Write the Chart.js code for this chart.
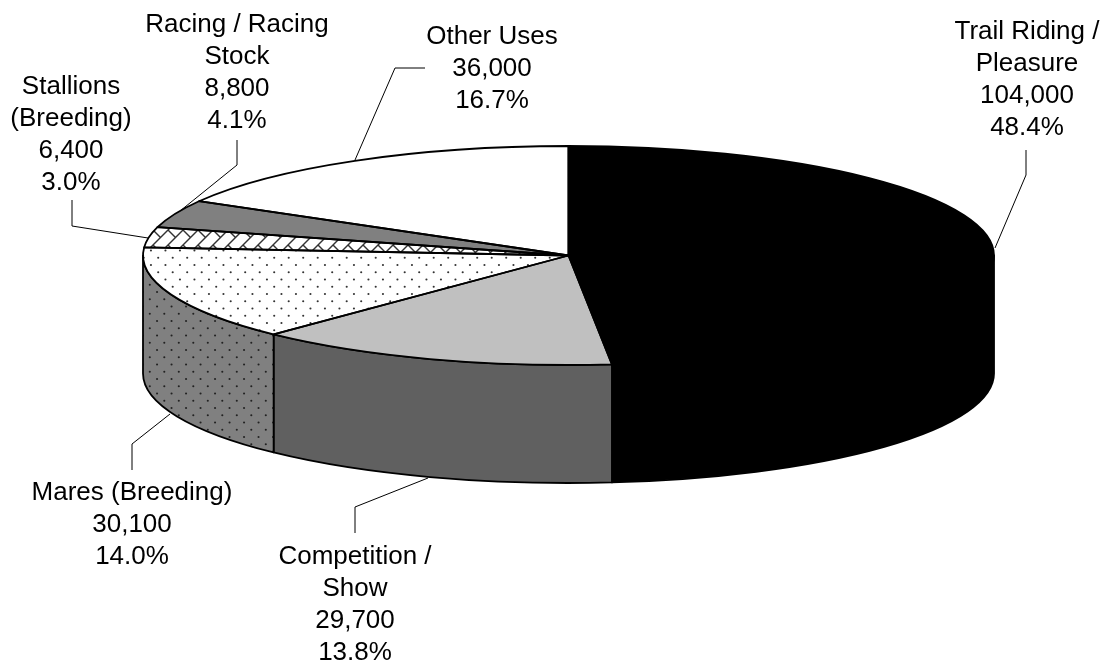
<!DOCTYPE html>
<html><head><meta charset="utf-8">
<style>html,body{margin:0;padding:0;background:#fff}canvas{display:block}</style>
<script src="https://cdn.jsdelivr.net/npm/chart.js@4"></script>
</head><body><canvas id="c" width="1102" height="660"></canvas>
<script>
const categories=["Trail Riding / Pleasure","Competition / Show","Mares (Breeding)","Stallions (Breeding)","Racing / Racing Stock","Other Uses"];
const horses=[104000,29700,30100,6400,8800,36000];
const shares=["48.4%","13.8%","14.0%","3.0%","4.1%","16.7%"];
const valueText=["104,000","29,700","30,100","6,400","8,800","36,000"];
const nameLines=[["Trail Riding /","Pleasure"],["Competition /","Show"],["Mares (Breeding)"],["Stallions","(Breeding)"],["Racing / Racing","Stock"],["Other Uses"]];

const FONT='26px "Liberation Sans", Arial, sans-serif';
const LINE=32;
const STRETCH=425.5/109.5, DEPTH=118;
const labelPos=[{x:1027,y:32},{x:355,y:557},{x:132,y:493},{x:71,y:87},{x:237,y:25},{x:492,y:37}];
const leaders=[
 [[995,248],[1026,175],[1026,150]],
 [[428,478],[355,507],[355,533]],
 [[170,414],[132,444],[132,470]],
 [[148,238],[72,226],[72,200]],
 [[180,211],[237,165],[237,140]],
 [[355,160],[395,68],[425,68]]
];

function tile(w,h,draw){const t=document.createElement('canvas');t.width=w;t.height=h;draw(t.getContext('2d'));return t;}
const probe=document.getElementById('c').getContext('2d');
function dots(bg,dot,px,py){return probe.createPattern(tile(29,29,g=>{
  g.fillStyle=bg;g.fillRect(0,0,29,29);g.fillStyle=dot;
  for(let i=-2;i<4;i++)for(let j=-2;j<4;j++){
    g.beginPath();g.arc(px+14.5*i,py+14.5*j,1.05,0,7);g.fill();
    g.beginPath();g.arc(px+7.25+14.5*i,py+7.25+14.5*j,1.05,0,7);g.fill();
  }
}),'repeat');}
const weave=probe.createPattern(tile(15,15,g=>{
  g.fillStyle='#fff';g.fillRect(0,0,15,15);g.strokeStyle='#333';g.lineWidth=1.4;
  g.beginPath();g.moveTo(-1,9);g.lineTo(9,-1);g.stroke();
  g.beginPath();g.moveTo(7,16);g.lineTo(16,7);g.stroke();
  g.beginPath();g.moveTo(3,5);g.lineTo(10.5,12.5);g.stroke();
}),'repeat');
const topDots=dots('#fff','#333',230.7%14.5,257.7%14.5);
const wallDots=dots('#808080','#222',193.3%14.5,400.7%14.5);
const topFill=['#000000','#c0c0c0',topDots,weave,'#808080','#ffffff'];
const wallFill=['#000000','#606060',wallDots,weave,'#808080','#ffffff'];

const pie3d={
 id:'pie3d',
 beforeDatasetsDraw(chart){
  const ctx=chart.ctx,arcs=chart.getDatasetMeta(0).data;
  ctx.save();ctx.lineWidth=1.8;ctx.strokeStyle='#000';ctx.lineJoin='round';
  arcs.forEach((a,i)=>{
   const rx=a.outerRadius*STRETCH,ry=a.outerRadius;
   const t0=Math.max(a.startAngle,0),t1=Math.min(a.endAngle,Math.PI);
   if(t1<=t0)return;
   ctx.beginPath();
   ctx.ellipse(a.x,a.y,rx,ry,0,t0,t1);
   ctx.ellipse(a.x,a.y+DEPTH,rx,ry,0,t1,t0,true);
   ctx.closePath();
   ctx.fillStyle=wallFill[i];ctx.fill();ctx.stroke();
  });
  ctx.restore();
  const a0=arcs[0];
  const inv=new DOMMatrix().translate(a0.x,a0.y).scale(1/STRETCH,1).translate(-a0.x,-a0.y);
  topDots.setTransform(inv);weave.setTransform(inv);
  ctx.save();
  ctx.translate(a0.x,a0.y);ctx.scale(STRETCH,1);ctx.translate(-a0.x,-a0.y);
 },
 afterDatasetsDraw(chart){
  const ctx=chart.ctx,arcs=chart.getDatasetMeta(0).data;
  ctx.restore();
  ctx.save();ctx.lineWidth=1.8;ctx.strokeStyle='#000';ctx.lineJoin='round';
  arcs.forEach(a=>{
   ctx.beginPath();ctx.moveTo(a.x,a.y);
   ctx.ellipse(a.x,a.y,a.outerRadius*STRETCH,a.outerRadius,0,a.startAngle,a.endAngle);
   ctx.closePath();ctx.stroke();
  });
  ctx.lineWidth=1;ctx.strokeStyle='#000';
  leaders.forEach(p=>{ctx.beginPath();ctx.moveTo(p[0][0],p[0][1]);ctx.lineTo(p[1][0],p[1][1]);ctx.lineTo(p[2][0],p[2][1]);ctx.stroke();});
  ctx.fillStyle='#000';ctx.font=FONT;ctx.textAlign='center';ctx.textBaseline='middle';
  categories.forEach((c,i)=>{
   const lines=[...nameLines[i],valueText[i],shares[i]];
   lines.forEach((t,j)=>ctx.fillText(t,labelPos[i].x,labelPos[i].y+j*LINE));
  });
  ctx.restore();
 }
};

new Chart(document.getElementById('c'),{
 type:'pie',
 data:{labels:categories,datasets:[{data:horses,backgroundColor:topFill,borderWidth:0,clip:false}]},
 options:{responsive:false,animation:false,events:[],
  layout:{padding:{left:35,right:0,top:146,bottom:295}},
  plugins:{legend:{display:false},tooltip:{enabled:false},title:{display:false}}},
 plugins:[pie3d]
});
</script></body></html>
